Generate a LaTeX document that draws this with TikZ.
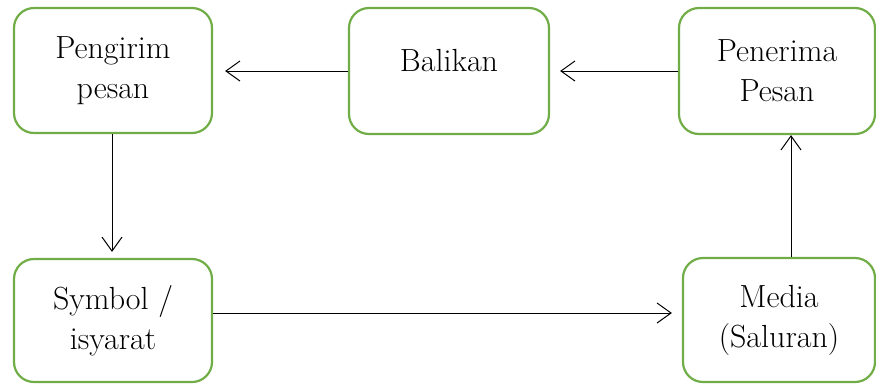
\documentclass[tikz,border=0pt]{standalone}
\usepackage{fontspec}
\usetikzlibrary{arrows.meta}
\definecolor{boxgreen}{RGB}{112,173,71}
\begin{document}
\begin{tikzpicture}[x=1pt,y=-1pt,
  box/.style={draw=boxgreen, line width=2.2pt, rounded corners=20pt, inner sep=0pt},
  link/.style={draw=black, line width=1pt,
    -{Straight Barb[length=14pt,width=20pt,line width=1pt]}}]
\useasboundingbox (0,0) rectangle (876,384);

% top row
\node[font=\rmfamily\fontsize{32}{40}\selectfont, align=center, box, minimum width=198pt, minimum height=125pt] (sender) at (113,70.5) {Pengirim\\pesan};
\node[font=\rmfamily\fontsize{32}{40}\selectfont, box, minimum width=200pt, minimum height=126pt, text height=21pt, text depth=21pt] (feedback) at (449,71) {Balikan};
\node[font=\rmfamily\fontsize{32}{40}\selectfont, align=center, box, minimum width=196pt, minimum height=126pt] (receiver) at (777,71) {Penerima\\Pesan};
% bottom row
\node[font=\rmfamily\fontsize{32}{40}\selectfont, align=center, box, minimum width=198pt, minimum height=123pt] (symbol) at (113,320.5) {Symbol /\\isyarat};
\node[font=\rmfamily\fontsize{32}{40}\selectfont, align=center, box, minimum width=192pt, minimum height=124pt] (media) at (779,320) {Media\\(Saluran)};

% connectors
\draw[link, shorten >=12pt] (feedback.west) -- (feedback.west -| sender.east);
\draw[link, shorten >=10pt] (receiver.west) -- (receiver.west -| feedback.east);
\draw[link, shorten >=6pt] ([xshift=-1pt]sender.south) -- ([xshift=-1pt]sender.south |- symbol.north);
\draw[link, shorten >=10pt] ([yshift=7.5pt]symbol.east) -- ([yshift=7.5pt]symbol.east -| media.west);
\draw[link] ([xshift=12pt]media.north) -- ([xshift=12pt]media.north |- receiver.south);
\end{tikzpicture}
\end{document}
